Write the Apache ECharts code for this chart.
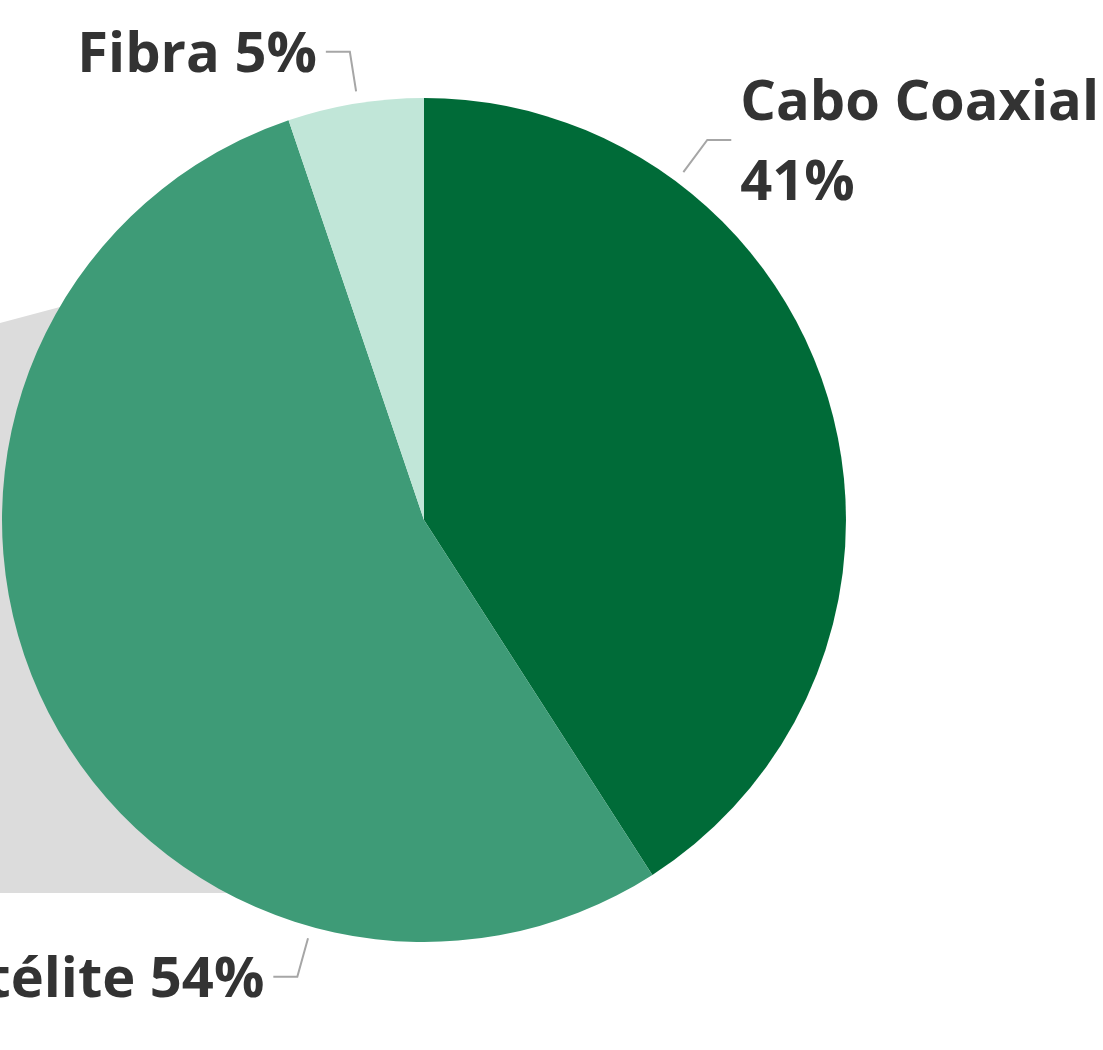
<!DOCTYPE html>
<html>
<head>
<meta charset="utf-8">
<style>
  html, body { margin: 0; padding: 0; background: #ffffff; }
  #chart { width: 1103px; height: 1050px; }
</style>
<script src="https://cdn.jsdelivr.net/npm/echarts@6/dist/echarts.min.js"></script>
</head>
<body>
<div id="chart"></div>
<script>
// ---- data ----
const categories = ['Cabo Coaxial', 'Satélite', 'Fibra'];
const shares = [40.9, 53.9, 5.2];   // labels show rounded %

// ---- styling / layout ----
const sliceColors = ['#006b38', '#3e9b77', '#c1e6d8'];
const labelAngles = [36.7, 195.5, 351];   // where each callout leaves the pie (deg clockwise from 12 o'clock)
const CX = 424, CY = 520, R = 422;
const FONT = '"Open Sans", "Noto Sans", sans-serif';

const chart = echarts.init(document.getElementById('chart'), null, { renderer: 'canvas' });

const option = {
  backgroundColor: '#ffffff',
  animation: false,
  graphic: [{
    type: 'polygon',
    z: -10,
    shape: { points: [[0, 323], [150, 283], [230, 893], [0, 893]] },
    style: { fill: '#dcdcdc' }
  }],
  series: [{
    type: 'pie',
    z: 5,
    center: [CX, CY],
    radius: R,
    startAngle: 90,
    clockwise: true,
    avoidLabelOverlap: false,
    data: categories.map((c, i) => ({
      name: c,
      value: shares[i],
      itemStyle: { color: sliceColors[i] }
    })),
    itemStyle: { borderWidth: 0 },
    label: {
      show: true,
      position: 'outside',
      overflow: 'none',
      color: '#333333',
      fontFamily: FONT,
      fontWeight: 'bold',
      fontSize: 56,
      lineHeight: 80,
      formatter: p => {
        const pct = Math.round(p.percent) + '%';
        return p.name === 'Cabo Coaxial' ? p.name + '\n' + pct : p.name + ' ' + pct;
      }
    },
    labelLine: {
      show: true,
      length: 40,
      length2: 24,
      lineStyle: { color: '#a6a6a6', width: 2 }
    },
    labelLayout: function (params) {
      const th = labelAngles[params.dataIndex] * Math.PI / 180;
      const dx = Math.sin(th), dy = -Math.cos(th);
      const side = dx >= 0 ? 1 : -1;
      const p1 = [CX + (R + 12) * dx, CY + (R + 12) * dy];
      const p2 = [CX + (R + 52) * dx, CY + (R + 52) * dy];
      const p3 = [p2[0] + side * 24, p2[1]];
      return {
        x: p3[0] + side * 9,
        y: p3[1] + 4,
        align: side > 0 ? 'left' : 'right',
        verticalAlign: 'middle',
        labelLinePoints: [p1, p2, p3]
      };
    }
  }]
};
chart.setOption(option);
</script>
</body>
</html>
